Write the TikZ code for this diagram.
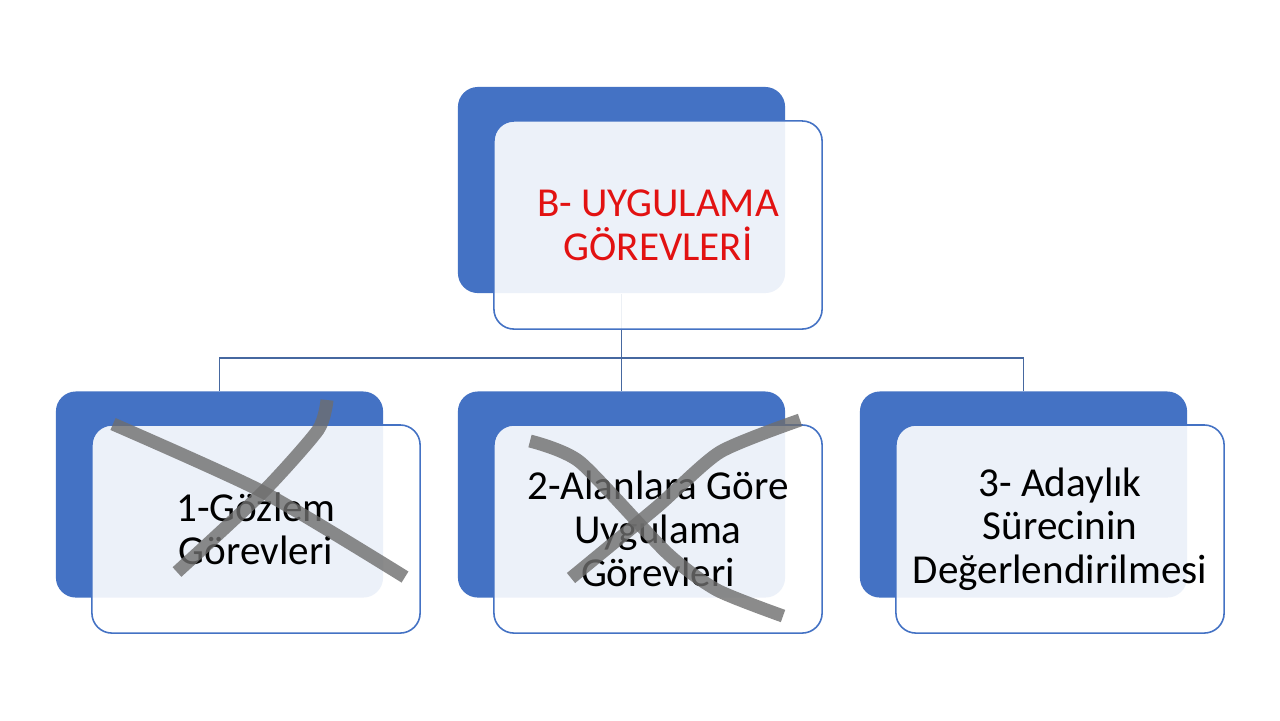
\documentclass[tikz,border=0pt]{standalone}
\usepackage{fontspec}
\setmainfont{Carlito}
\usepackage{tikz}
\usetikzlibrary{calc}

\definecolor{boxblue}{RGB}{68,114,196}
\definecolor{linkblue}{RGB}{70,104,160}
\definecolor{titlered}{RGB}{226,18,18}
\definecolor{pengray}{RGB}{110,110,110}

\tikzset{
  backbox/.style={fill=boxblue, rounded corners=0.2cm, minimum width=3.27cm, minimum height=2.06cm, inner sep=0pt},
  frontbox/.style={draw=boxblue, line width=0.45pt, fill=white, fill opacity=0.9, text opacity=1,
    rounded corners=0.2cm, minimum width=3.28cm, minimum height=2.08cm, inner sep=0pt,
    align=center, font=\fontsize{11.7}{12.4}\selectfont},
  link/.style={draw=linkblue, line width=0.45pt},
  penx/.style={draw=pengray, line width=3.7pt, opacity=0.8}
}

\begin{document}
\begin{tikzpicture}[x=0.01cm, y=-0.01cm]

    % Page
    \useasboundingbox (0,0) rectangle (1280,720);
    \fill[white] (0,0) rectangle (1280,720);

    % Blue boxes behind
    \node[backbox] (topback) at (621.5,190) {};
    \node[backbox] (leftback) at (219.5,494.5) {};
    \node[backbox] (midback) at (621.5,494.5) {};
    \node[backbox] (rightback) at (1023.5,494.5) {};

    % Tree lines
    \coordinate (bus) at (621.5,358);
    \draw[link] (topback.south) -- (bus);
    \draw[link] (leftback.north) |- (bus) -| (rightback.north);
    \draw[link] (bus) -- (midback.north);

    % Light boxes with the texts
    \node[frontbox, text=titlered] (top) at (658,225) {B- UYGULAMA\\GÖREVLERİ};
    \node[frontbox] (left) at (256,529) {1-Gözlem\\Görevleri};
    \node[frontbox] (mid) at (658,529) {2-Alanlara Göre\\Uygulama\\Görevleri};
    \node[frontbox] (right) at (1060,529) {3- Adaylık\\Sürecinin\\Değerlendirilmesi};

    % Crossed out by hand
    \draw[penx] plot[smooth, tension=0.4] coordinates {(113,424) (263,492) (405,577)};
    \draw[penx] plot[smooth, tension=0.4] coordinates {(327,400) (318,430) (263,492) (177,572)};
    \draw[penx] plot[smooth, tension=0.4] coordinates {(530,441) (580,462) (667,553) (717,590) (783,616)};
    \draw[penx] plot[smooth, tension=0.4] coordinates {(800,420) (720,452) (657,507) (571,578)};

\end{tikzpicture}
\end{document}
